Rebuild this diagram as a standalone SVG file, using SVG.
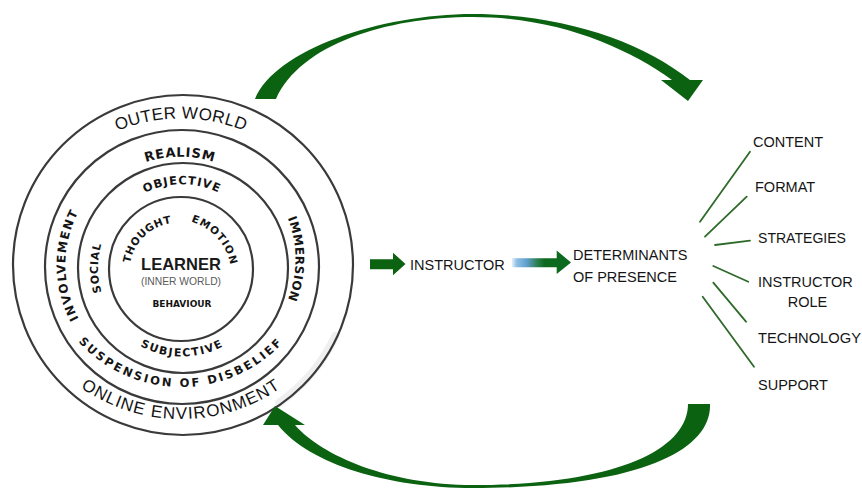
<svg xmlns="http://www.w3.org/2000/svg" xmlns:xlink="http://www.w3.org/1999/xlink" width="862" height="488" viewBox="0 0 862 488">
<style>
.ring{fill:none;stroke:#3a3a3a;stroke-width:2.2}
.lbl{font-family:"DejaVu Sans",Verdana,sans-serif;font-weight:bold;fill:#141414}
.big{font-family:"Liberation Sans",Arial,sans-serif;font-size:17px;fill:#141414}
.txt{font-family:"Liberation Sans",Arial,sans-serif;font-size:14.5px;fill:#151515}
.arrow{fill:#0b6311}
.spoke{stroke:#2e6a2a;stroke-width:1.8;stroke-linecap:round;fill:none}
</style>
<defs>
<path id="pOuter" d="M 12,287.5 A 169 169 0 0 1 350,287.5"/>
<path id="pOnline" d="M 5,243 A 176 176 0 0 0 357,243"/>
<path id="pRealism" d="M 69.7,267 A 110.3 110.3 0 0 1 290.3,267"/>
<path id="pObjective" d="M 98.2,268 A 83.8 83.8 0 0 1 265.8,268"/>
<path id="pInvolvement" d="M 180,379.6 A 114.6 114.6 0 0 1 180,150.4"/>
<path id="pSocial" d="M 181,351 A 83 83 0 0 1 181,185"/>
<path id="pImmersion" d="M 185,148.5 A 110.5 110.5 0 0 1 185,369.5"/>
<path id="pThought" d="M 142.97,304.83 A 48.7 48.7 0 0 1 213.03,237.17"/>
<path id="pEmotion" d="M 138.4,233.24 A 56.2 56.2 0 0 1 213.6,316.76"/>
<path id="pSubjective" d="M 93.5,268 A 88.5 88.5 0 0 0 270.5,268"/>
<path id="pSuspension" d="M 42,248 A 139 139 0 0 0 320,248"/>
<linearGradient id="gradArrow" x1="512" y1="0" x2="571" y2="0" gradientUnits="userSpaceOnUse">
<stop offset="0" stop-color="#e4f0fa"/>
<stop offset="0.08" stop-color="#8fbfe6"/>
<stop offset="0.25" stop-color="#5f9fcf"/>
<stop offset="0.42" stop-color="#2f7f55"/>
<stop offset="0.55" stop-color="#0d6a1f"/>
<stop offset="1" stop-color="#0b6a1d"/>
</linearGradient>
</defs>
<rect width="862" height="488" fill="#ffffff"/>

<g id="presence-model">
<path d="M 335.3,336 A 168 168 0 0 1 279.4,402.6" fill="none" stroke="#efefef" stroke-width="8" stroke-linecap="round"/>
<circle class="ring" cx="183" cy="265" r="170"/>
<circle class="ring" cx="182" cy="267" r="137"/>
<circle class="ring" cx="183" cy="268" r="105"/>
<circle class="ring" cx="181" cy="269" r="72"/>
<text class="big" text-anchor="middle" style="letter-spacing:0.3px"><textPath href="#pOuter" xlink:href="#pOuter" startOffset="50%">OUTER WORLD</textPath></text>
<text class="big" text-anchor="middle" style="letter-spacing:1.1px"><textPath href="#pOnline" xlink:href="#pOnline" startOffset="50%">ONLINE ENVIRONMENT</textPath></text>
<text class="lbl" font-size="13" text-anchor="middle" style="letter-spacing:0.75px"><textPath href="#pRealism" xlink:href="#pRealism" startOffset="50%">REALISM</textPath></text>
<text class="lbl" font-size="11.5" text-anchor="middle" style="letter-spacing:1px"><textPath href="#pObjective" xlink:href="#pObjective" startOffset="50%">OBJECTIVE</textPath></text>
<text class="lbl" font-size="12" text-anchor="middle" style="letter-spacing:1.45px"><textPath href="#pInvolvement" xlink:href="#pInvolvement" startOffset="50%">INVOLVEMENT</textPath></text>
<text class="lbl" font-size="11" text-anchor="middle" style="letter-spacing:0.7px"><textPath href="#pSocial" xlink:href="#pSocial" startOffset="50%">SOCIAL</textPath></text>
<text class="lbl" font-size="12" text-anchor="middle" style="letter-spacing:0.5px"><textPath href="#pImmersion" xlink:href="#pImmersion" startOffset="50%">IMMERSION</textPath></text>
<text class="lbl" font-size="10.5" text-anchor="middle" style="letter-spacing:0.6px"><textPath href="#pThought" xlink:href="#pThought" startOffset="50%">THOUGHT</textPath></text>
<text class="lbl" font-size="10.5" text-anchor="middle" style="letter-spacing:1px"><textPath href="#pEmotion" xlink:href="#pEmotion" startOffset="50%">EMOTION</textPath></text>
<text class="lbl" font-size="11" text-anchor="middle" style="letter-spacing:1.5px"><textPath href="#pSubjective" xlink:href="#pSubjective" startOffset="50%">SUBJECTIVE</textPath></text>
<text class="lbl" font-size="11.5" text-anchor="middle" style="letter-spacing:2.4px"><textPath href="#pSuspension" xlink:href="#pSuspension" startOffset="50%">SUSPENSION OF DISBELIEF</textPath></text>
<text x="181" y="270" text-anchor="middle" font-family="Liberation Sans, Arial, sans-serif" font-weight="bold" font-size="16.5" fill="#1a1a1a">LEARNER</text>
<text x="181" y="285" text-anchor="middle" font-family="Liberation Sans, Arial, sans-serif" font-size="11" fill="#5a5a5a" textLength="80" lengthAdjust="spacingAndGlyphs">(INNER WORLD)</text>
<text class="lbl" x="182" y="307" text-anchor="middle" font-size="9">BEHAVIOUR</text>
</g>

<g id="instructor">
<text class="txt" x="410" y="270">INSTRUCTOR</text>
</g>

<g id="determinants">
<text class="txt" x="573" y="259.5">DETERMINANTS</text>
<text class="txt" x="573" y="282">OF PRESENCE</text>
</g>

<g id="content"><text class="txt" x="753" y="146.5">CONTENT</text></g>
<g id="format"><text class="txt" x="755" y="191.5">FORMAT</text></g>
<g id="strategies"><text class="txt" x="758" y="243" textLength="88" lengthAdjust="spacingAndGlyphs">STRATEGIES</text></g>
<g id="instructor-role">
<text class="txt" x="758" y="286.5">INSTRUCTOR</text>
<text class="txt" x="807.5" y="306.5" text-anchor="middle">ROLE</text>
</g>
<g id="technology"><text class="txt" x="758" y="343" textLength="103" lengthAdjust="spacingAndGlyphs">TECHNOLOGY</text></g>
<g id="support"><text class="txt" x="758" y="390">SUPPORT</text></g>

<g id="connectors">
<path class="arrow" d="M 255,99 C 275,50 380,14 473,14 C 560,14 640,40 690,80 L 703,80 L 688,101 L 661,80 L 672,80 C 625,46 555,17 473,17 C 385,17 300,45 276,99 Z"/>
<path class="arrow" d="M 710,404 C 712,450 640,488 473,488 C 390,488 310,465 278,425 L 263,425 L 275,406 L 305,425 L 295,425 C 322,456 390,485 473,485 C 615,485 688,450 688,404 Z"/>
<path class="arrow" d="M 370,259.3 L 393,259.3 L 393,252.7 L 405.5,264 L 393,275.3 L 393,269.3 L 370,269.3 Z"/>
<path fill="url(#gradArrow)" d="M 512,258.3 L 556.7,258.3 L 556.7,250.5 L 571,262.5 L 556.7,274 L 556.7,267.3 L 512,267.3 Z"/>
<line class="spoke" x1="700" y1="221.7" x2="750" y2="151.7"/>
<line class="spoke" x1="705" y1="236.7" x2="746.7" y2="196.7"/>
<line class="spoke" x1="715" y1="245" x2="750" y2="240.7"/>
<line class="spoke" x1="713.3" y1="266" x2="748.3" y2="281.7"/>
<line class="spoke" x1="713.3" y1="282.7" x2="746" y2="321.7"/>
<line class="spoke" x1="702.7" y1="296.7" x2="754" y2="366.7"/>
</g>
</svg>
